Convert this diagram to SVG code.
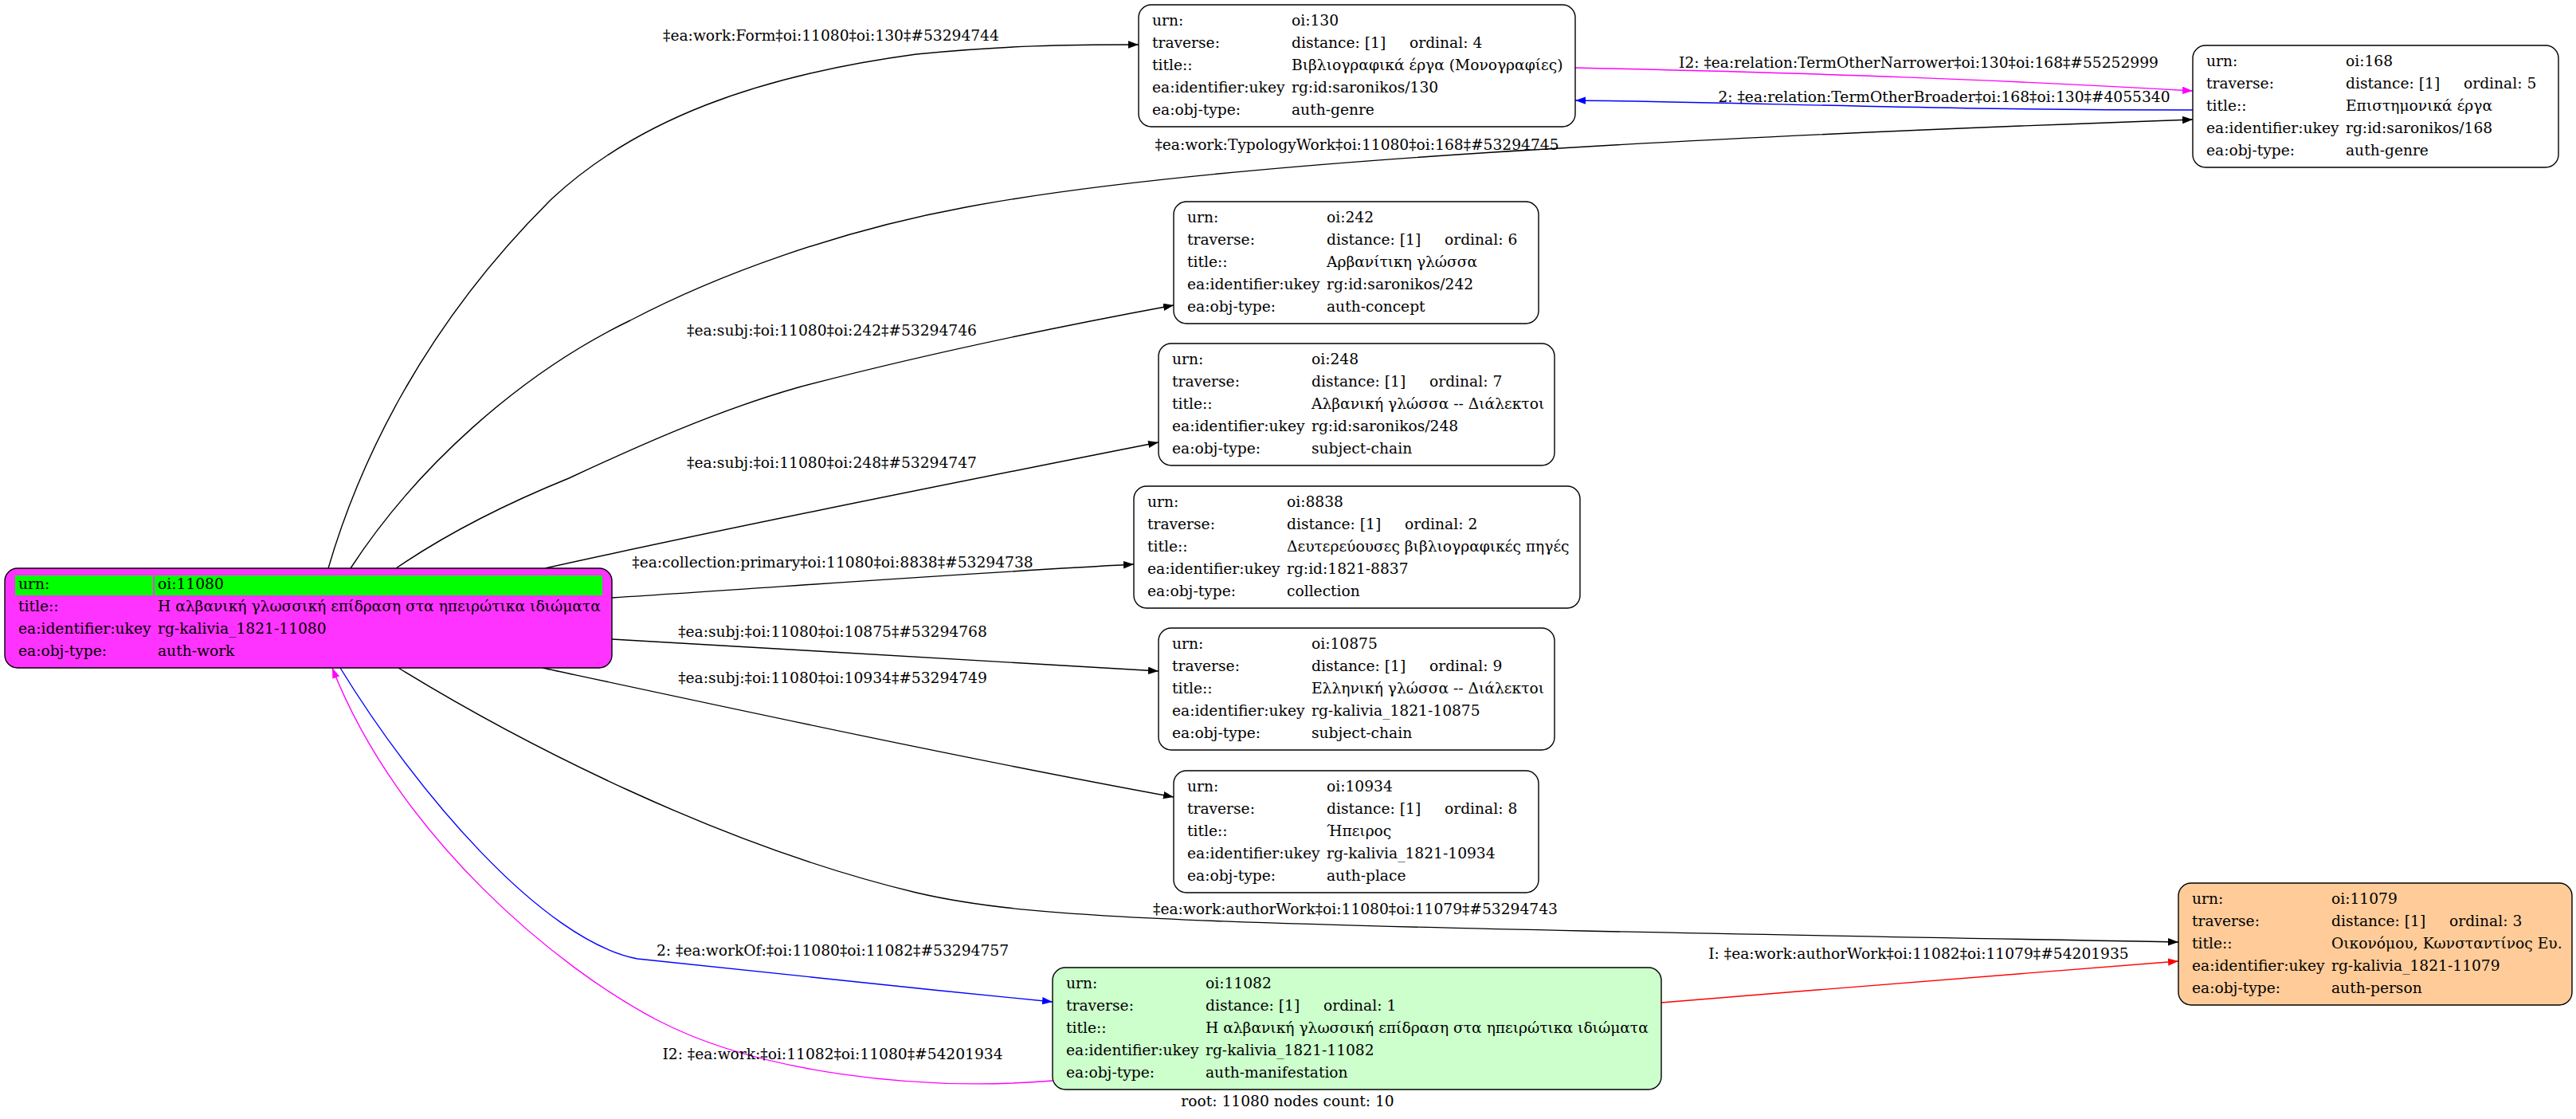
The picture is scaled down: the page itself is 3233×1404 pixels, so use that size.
<svg xmlns="http://www.w3.org/2000/svg" width="3233" height="1404" viewBox="0 0 3233 1404">
<style>
text{font-family:"DejaVu Serif","Liberation Serif",serif;font-size:18.67px;fill:#000}
.box{stroke:#000;stroke-width:1.4}
.w{fill:#fff}
.e{fill:none;stroke-width:1.4}
.k{stroke:#000}.b{stroke:#0000ff}.m{stroke:#ff00ff}.r{stroke:#ff0000}
.lbl{text-anchor:middle}
</style>
<defs>
<marker id="ak" markerUnits="userSpaceOnUse" markerWidth="14" markerHeight="10" refX="13" refY="4.7" orient="auto"><path d="M0,0L13,4.7L0,9.4z" fill="#000"/></marker>
<marker id="ab" markerUnits="userSpaceOnUse" markerWidth="14" markerHeight="10" refX="13" refY="4.7" orient="auto"><path d="M0,0L13,4.7L0,9.4z" fill="#0000ff"/></marker>
<marker id="am" markerUnits="userSpaceOnUse" markerWidth="14" markerHeight="10" refX="13" refY="4.7" orient="auto"><path d="M0,0L13,4.7L0,9.4z" fill="#ff00ff"/></marker>
<marker id="ar" markerUnits="userSpaceOnUse" markerWidth="14" markerHeight="10" refX="13" refY="4.7" orient="auto"><path d="M0,0L13,4.7L0,9.4z" fill="#ff0000"/></marker>
</defs>
<rect width="3233" height="1404" fill="#fff"/>
<g id="connectors">
<path class="e k" marker-end="url(#ak)" d="M412,713 C445,600 520,420 693,249 C800,150 950,95 1150,68 C1260,57 1340,56 1429,56"/>
<text class="lbl" x="1043" y="51">‡ea:work:Form‡oi:11080‡oi:130‡#53294744</text>
<path class="e k" marker-end="url(#ak)" d="M440,713 C520,590 650,470 791,402 C900,345 1050,290 1212,260 C1450,215 1900,180 2752,150"/>
<text class="lbl" x="1703" y="188">‡ea:work:TypologyWork‡oi:11080‡oi:168‡#53294745</text>
<path class="e k" marker-end="url(#ak)" d="M497,713 C560,670 640,630 714,600 C800,560 900,515 1002,486 C1150,447 1300,415 1473,383"/>
<text class="lbl" x="1044" y="421">‡ea:subj:‡oi:11080‡oi:242‡#53294746</text>
<path class="e k" marker-end="url(#ak)" d="M684,713 C900,665 1200,605 1454,555"/>
<text class="lbl" x="1044" y="587">‡ea:subj:‡oi:11080‡oi:248‡#53294747</text>
<path class="e k" marker-end="url(#ak)" d="M768,750 C1000,735 1200,720 1423,708"/>
<text class="lbl" x="1045" y="712">‡ea:collection:primary‡oi:11080‡oi:8838‡#53294738</text>
<path class="e k" marker-end="url(#ak)" d="M768,802 C1000,815 1200,828 1454,842"/>
<text class="lbl" x="1045" y="799">‡ea:subj:‡oi:11080‡oi:10875‡#53294768</text>
<path class="e k" marker-end="url(#ak)" d="M681,838 C900,885 1200,950 1473,1000"/>
<text class="lbl" x="1045" y="857">‡ea:subj:‡oi:11080‡oi:10934‡#53294749</text>
<path class="e k" marker-end="url(#ak)" d="M500,838 C650,930 900,1060 1150,1120 C1300,1155 1500,1160 2734,1182"/>
<text class="lbl" x="1701" y="1147">‡ea:work:authorWork‡oi:11080‡oi:11079‡#53294743</text>
<path class="e b" marker-end="url(#ab)" d="M427,838 C520,990 680,1180 800,1203 C1000,1225 1150,1240 1321,1257"/>
<text class="lbl" x="1045" y="1199">2: ‡ea:workOf:‡oi:11080‡oi:11082‡#53294757</text>
<path class="e m" marker-end="url(#am)" d="M1321,1356 C1150,1370 950,1345 825,1280 C700,1215 500,1050 417,838"/>
<text class="lbl" x="1045" y="1329">I2: ‡ea:work:‡oi:11082‡oi:11080‡#54201934</text>
<path class="e m" marker-end="url(#am)" d="M1977,85 C2300,92 2500,100 2752,114"/>
<text class="lbl" x="2408" y="85">I2: ‡ea:relation:TermOtherNarrower‡oi:130‡oi:168‡#55252999</text>
<path class="e b" marker-end="url(#ab)" d="M2752,138 C2400,138 2200,128 1977,126"/>
<text class="lbl" x="2440" y="128">2: ‡ea:relation:TermOtherBroader‡oi:168‡oi:130‡#4055340</text>
<path class="e r" marker-end="url(#ar)" d="M2085,1258 C2300,1240 2500,1225 2734,1206"/>
<text class="lbl" x="2408" y="1203">I: ‡ea:work:authorWork‡oi:11082‡oi:11079‡#54201935</text>
</g>
<g id="n11080">
<rect class="box" x="6" y="713" width="762" height="125" rx="16" fill="#ff33ff"/>
<rect x="19" y="722" width="173" height="25" fill="#00ff00"/>
<rect x="194" y="722" width="562" height="25" fill="#00ff00"/>
<text x="23" y="739">urn:</text><text x="198" y="739">oi:11080</text>
<text x="23" y="767">title::</text><text x="198" y="767">Η αλβανική γλωσσική επίδραση στα ηπειρώτικα ιδιώματα</text>
<text x="23" y="795">ea:identifier:ukey</text><text x="198" y="795">rg-kalivia_1821-11080</text>
<text x="23" y="823">ea:obj-type:</text><text x="198" y="823">auth-work</text>
</g>
<g id="n130">
<rect class="box w" x="1429" y="6" width="548" height="153" rx="16"/>
<text x="1446" y="32">urn:</text><text x="1621" y="32">oi:130</text>
<text x="1446" y="60">traverse:</text><text x="1621" y="60">distance: [1]</text><text x="1769" y="60">ordinal: 4</text>
<text x="1446" y="88">title::</text><text x="1621" y="88">Βιβλιογραφικά έργα (Μονογραφίες)</text>
<text x="1446" y="116">ea:identifier:ukey</text><text x="1621" y="116">rg:id:saronikos/130</text>
<text x="1446" y="144">ea:obj-type:</text><text x="1621" y="144">auth-genre</text>
</g>
<g id="n168">
<rect class="box w" x="2752" y="57" width="459" height="153" rx="16"/>
<text x="2769" y="83">urn:</text><text x="2944" y="83">oi:168</text>
<text x="2769" y="111">traverse:</text><text x="2944" y="111">distance: [1]</text><text x="3092" y="111">ordinal: 5</text>
<text x="2769" y="139">title::</text><text x="2944" y="139">Επιστημονικά έργα</text>
<text x="2769" y="167">ea:identifier:ukey</text><text x="2944" y="167">rg:id:saronikos/168</text>
<text x="2769" y="195">ea:obj-type:</text><text x="2944" y="195">auth-genre</text>
</g>
<g id="n242">
<rect class="box w" x="1473" y="253" width="458" height="153" rx="16"/>
<text x="1490" y="279">urn:</text><text x="1665" y="279">oi:242</text>
<text x="1490" y="307">traverse:</text><text x="1665" y="307">distance: [1]</text><text x="1813" y="307">ordinal: 6</text>
<text x="1490" y="335">title::</text><text x="1665" y="335">Αρβανίτικη γλώσσα</text>
<text x="1490" y="363">ea:identifier:ukey</text><text x="1665" y="363">rg:id:saronikos/242</text>
<text x="1490" y="391">ea:obj-type:</text><text x="1665" y="391">auth-concept</text>
</g>
<g id="n248">
<rect class="box w" x="1454" y="431" width="497" height="153" rx="16"/>
<text x="1471" y="457">urn:</text><text x="1646" y="457">oi:248</text>
<text x="1471" y="485">traverse:</text><text x="1646" y="485">distance: [1]</text><text x="1794" y="485">ordinal: 7</text>
<text x="1471" y="513">title::</text><text x="1646" y="513">Αλβανική γλώσσα -- Διάλεκτοι</text>
<text x="1471" y="541">ea:identifier:ukey</text><text x="1646" y="541">rg:id:saronikos/248</text>
<text x="1471" y="569">ea:obj-type:</text><text x="1646" y="569">subject-chain</text>
</g>
<g id="n8838">
<rect class="box w" x="1423" y="610" width="560" height="153" rx="16"/>
<text x="1440" y="636">urn:</text><text x="1615" y="636">oi:8838</text>
<text x="1440" y="664">traverse:</text><text x="1615" y="664">distance: [1]</text><text x="1763" y="664">ordinal: 2</text>
<text x="1440" y="692">title::</text><text x="1615" y="692">Δευτερεύουσες βιβλιογραφικές πηγές</text>
<text x="1440" y="720">ea:identifier:ukey</text><text x="1615" y="720">rg:id:1821-8837</text>
<text x="1440" y="748">ea:obj-type:</text><text x="1615" y="748">collection</text>
</g>
<g id="n10875">
<rect class="box w" x="1454" y="788" width="497" height="153" rx="16"/>
<text x="1471" y="814">urn:</text><text x="1646" y="814">oi:10875</text>
<text x="1471" y="842">traverse:</text><text x="1646" y="842">distance: [1]</text><text x="1794" y="842">ordinal: 9</text>
<text x="1471" y="870">title::</text><text x="1646" y="870">Ελληνική γλώσσα -- Διάλεκτοι</text>
<text x="1471" y="898">ea:identifier:ukey</text><text x="1646" y="898">rg-kalivia_1821-10875</text>
<text x="1471" y="926">ea:obj-type:</text><text x="1646" y="926">subject-chain</text>
</g>
<g id="n10934">
<rect class="box w" x="1473" y="967" width="458" height="153" rx="16"/>
<text x="1490" y="993">urn:</text><text x="1665" y="993">oi:10934</text>
<text x="1490" y="1021">traverse:</text><text x="1665" y="1021">distance: [1]</text><text x="1813" y="1021">ordinal: 8</text>
<text x="1490" y="1049">title::</text><text x="1665" y="1049">Ήπειρος</text>
<text x="1490" y="1077">ea:identifier:ukey</text><text x="1665" y="1077">rg-kalivia_1821-10934</text>
<text x="1490" y="1105">ea:obj-type:</text><text x="1665" y="1105">auth-place</text>
</g>
<g id="n11079">
<rect class="box" x="2734" y="1108" width="494" height="153" rx="16" fill="#ffcc99"/>
<text x="2751" y="1134">urn:</text><text x="2926" y="1134">oi:11079</text>
<text x="2751" y="1162">traverse:</text><text x="2926" y="1162">distance: [1]</text><text x="3074" y="1162">ordinal: 3</text>
<text x="2751" y="1190">title::</text><text x="2926" y="1190">Οικονόμου, Κωνσταντίνος Ευ.</text>
<text x="2751" y="1218">ea:identifier:ukey</text><text x="2926" y="1218">rg-kalivia_1821-11079</text>
<text x="2751" y="1246">ea:obj-type:</text><text x="2926" y="1246">auth-person</text>
</g>
<g id="n11082">
<rect class="box" x="1321" y="1214" width="764" height="153" rx="16" fill="#ccffcc"/>
<text x="1338" y="1240">urn:</text><text x="1513" y="1240">oi:11082</text>
<text x="1338" y="1268">traverse:</text><text x="1513" y="1268">distance: [1]</text><text x="1661" y="1268">ordinal: 1</text>
<text x="1338" y="1296">title::</text><text x="1513" y="1296">Η αλβανική γλωσσική επίδραση στα ηπειρώτικα ιδιώματα</text>
<text x="1338" y="1324">ea:identifier:ukey</text><text x="1513" y="1324">rg-kalivia_1821-11082</text>
<text x="1338" y="1352">ea:obj-type:</text><text x="1513" y="1352">auth-manifestation</text>
</g>
<text class="lbl" x="1616" y="1388">root: 11080 nodes count: 10</text>
</svg>
